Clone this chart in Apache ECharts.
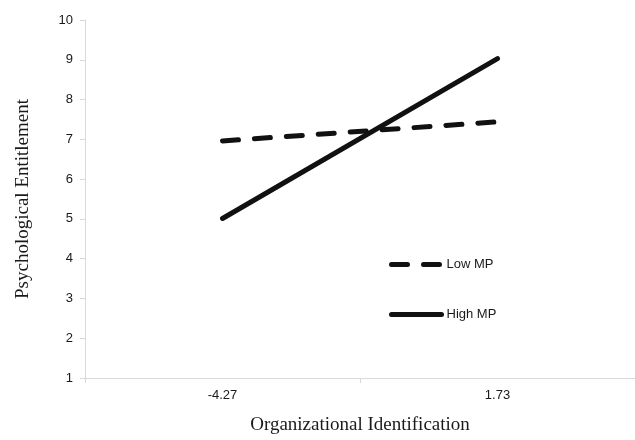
<!DOCTYPE html>
<html>
<head>
<meta charset="utf-8">
<script src="https://cdn.jsdelivr.net/npm/echarts@6/dist/echarts.min.js"></script>
<style>html,body{margin:0;padding:0;background:#fff}#c{width:635px;height:440px}</style>
</head>
<body>
<div id="c"></div>
<script>
const categories = ['-4.27', '1.73'];
const lowMP = [6.96, 7.44];
const highMP = [5.01, 9.03];
const seriesNames = ['Low MP', 'High MP'];
const yTicks = {min: 1, max: 10, interval: 1};

const chart = echarts.init(document.getElementById('c'));
const axisGray = '#d9d9d9';
chart.setOption({
  animation: false,
  backgroundColor: '#fff',
  grid: {left: 85, top: 20, width: 557, bottom: 60, containLabel: false},
  legend: {
    orient: 'vertical',
    left: 384,
    top: 253,
    itemWidth: 50,
    itemHeight: 14,
    itemGap: 37,
    itemStyle: {opacity: 0},
    lineStyle: {width: 5, cap: 'round'},
    textStyle: {fontFamily: 'Liberation Sans, Arial', fontSize: 13, color: '#1a1a1a', padding: [0,0,0,0]},
    data: seriesNames
  },
  xAxis: {
    type: 'category',
    data: categories,
    boundaryGap: true,
    name: 'Organizational Identification',
    nameLocation: 'middle',
    nameGap: 38,
    nameTextStyle: {fontFamily: 'Liberation Serif, Times New Roman', fontSize: 19, color: '#1a1a1a'},
    axisLine: {lineStyle: {color: axisGray, width: 1}},
    axisTick: {show: true, length: 5, lineStyle: {color: axisGray}},
    axisLabel: {fontFamily: 'Liberation Sans, Arial', fontSize: 13, color: '#1a1a1a', margin: 11}
  },
  yAxis: {
    type: 'value',
    min: yTicks.min,
    max: yTicks.max,
    interval: yTicks.interval,
    name: 'Psychological Entitlement',
    nameLocation: 'middle',
    nameGap: 52,
    nameTextStyle: {fontFamily: 'Liberation Serif, Times New Roman', fontSize: 19, color: '#1a1a1a'},
    axisLine: {show: true, lineStyle: {color: axisGray, width: 1}},
    axisTick: {show: true, length: 5, lineStyle: {color: axisGray}},
    axisLabel: {fontFamily: 'Liberation Sans, Arial', fontSize: 13, color: '#1a1a1a', margin: 12},
    splitLine: {show: false}
  },
  series: [
    {
      name: seriesNames[0], type: 'line', data: lowMP, symbol: 'none',
      lineStyle: {color: '#111', width: 5, type: [16, 16], cap: 'round'},
      itemStyle: {color: '#111'}
    },
    {
      name: seriesNames[1], type: 'line', data: highMP, symbol: 'none',
      lineStyle: {color: '#111', width: 5, cap: 'round'},
      itemStyle: {color: '#111'}
    }
  ]
});
</script>
</body>
</html>
